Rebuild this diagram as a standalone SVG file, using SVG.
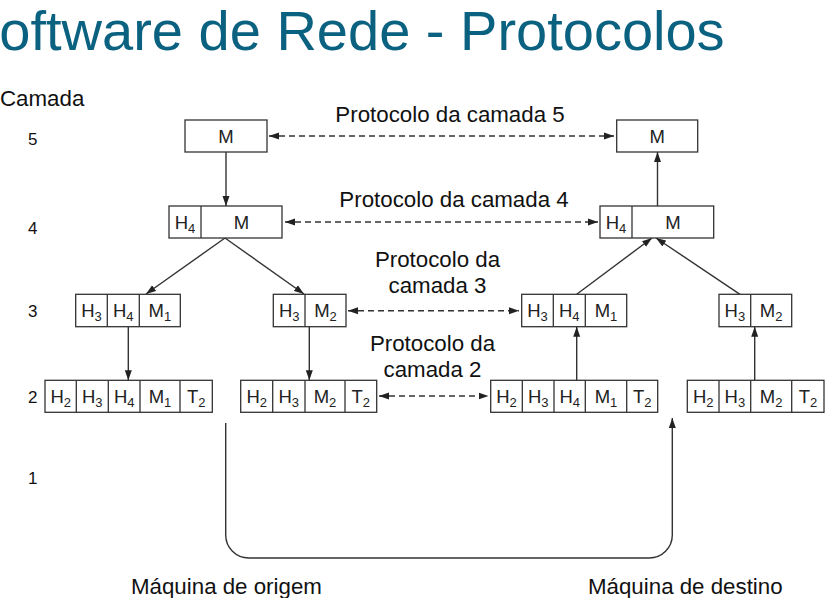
<svg xmlns="http://www.w3.org/2000/svg" width="834" height="598" viewBox="0 0 834 598">
<style>
text{font-family:"Liberation Sans",Arial,sans-serif;}
.title{font-size:56px;fill:#0b6180;}
.lbl{font-size:22.3px;fill:#111;}
.num{font-size:17px;fill:#111;}
.cell{fill:#fff;stroke:#333;stroke-width:1.3;}
.div{stroke:#333;stroke-width:1.3;}
.bt{font-size:18.5px;fill:#222;text-anchor:middle;}
.sub{font-size:13px;}
.arr{fill:none;stroke:#333;stroke-width:1.4;marker-end:url(#ah);}
.dash{fill:none;stroke:#333;stroke-width:1.4;stroke-dasharray:6 4;marker-start:url(#ah);marker-end:url(#ah);}
</style>
<defs>
<marker id="ah" markerUnits="userSpaceOnUse" markerWidth="11" markerHeight="8" refX="10" refY="4" orient="auto-start-reverse">
<path d="M0,0.5 L10,4 L0,7.5 z" fill="#222"/>
</marker>
</defs>
<rect width="834" height="598" fill="#fff"/>
<text class="title" x="-38" y="50">Software de Rede - Protocolos</text>
<g id="layer-labels">
<text class="lbl" x="0" y="106">Camada</text>
<text class="num" x="28" y="145">5</text>
<text class="num" x="28" y="234">4</text>
<text class="num" x="28" y="317">3</text>
<text class="num" x="28" y="403">2</text>
<text class="num" x="28" y="484">1</text>
</g>
<g id="protocol-labels">
<text class="lbl" x="450" y="122" text-anchor="middle">Protocolo da camada 5</text>
<text class="lbl" x="454" y="207" text-anchor="middle">Protocolo da camada 4</text>
<text class="lbl" x="437.5" y="267" text-anchor="middle">Protocolo da</text>
<text class="lbl" x="437.5" y="293" text-anchor="middle">camada 3</text>
<text class="lbl" x="432.5" y="351" text-anchor="middle">Protocolo da</text>
<text class="lbl" x="432.5" y="377" text-anchor="middle">camada 2</text>
</g>
<g id="connectors">
<line class="arr" x1="226" y1="152" x2="226" y2="206"/>
<line class="arr" x1="657.5" y1="206" x2="657.5" y2="152"/>
<line class="arr" x1="225" y1="238" x2="146" y2="294"/>
<line class="arr" x1="225" y1="238" x2="304" y2="294"/>
<line class="arr" x1="576.7" y1="294.3" x2="652" y2="238"/>
<line class="arr" x1="740" y1="294.3" x2="656" y2="238"/>
<line class="arr" x1="128.3" y1="326.7" x2="128.3" y2="380.3"/>
<line class="arr" x1="309.3" y1="326.7" x2="309.3" y2="380.3"/>
<line class="arr" x1="576.7" y1="380.3" x2="576.7" y2="326.7"/>
<line class="arr" x1="754.7" y1="380.3" x2="754.7" y2="326.7"/>
<line class="dash" x1="269" y1="136" x2="614" y2="136"/>
<line class="dash" x1="285" y1="222" x2="598" y2="222"/>
<line class="dash" x1="348" y1="310.7" x2="519" y2="310.7"/>
<line class="dash" x1="379" y1="396" x2="488.5" y2="396"/>
<path class="arr" d="M225.7,423 V535 A23,23 0 0 0 248.7,558 H649.3 A23,23 0 0 0 672.3,535 V418"/>
</g>
<g id="src-l5">
<rect class="cell" x="185" y="120" width="82" height="32"/>
<text class="bt" x="226" y="142.5">M</text>
</g>
<g id="dst-l5">
<rect class="cell" x="616.7" y="120" width="81" height="32"/>
<text class="bt" x="657.2" y="142.5">M</text>
</g>
<g id="src-l4">
<rect class="cell" x="169" y="206" width="113" height="32"/>
<line class="div" x1="201" y1="206" x2="201" y2="238"/>
<text class="bt" x="185" y="228.5">H<tspan class="sub" dy="4">4</tspan></text>
<text class="bt" x="241.5" y="228.5">M</text>
</g>
<g id="dst-l4">
<rect class="cell" x="600" y="206" width="113.7" height="32"/>
<line class="div" x1="632" y1="206" x2="632" y2="238"/>
<text class="bt" x="616" y="228.5">H<tspan class="sub" dy="4">4</tspan></text>
<text class="bt" x="673" y="228.5">M</text>
</g>
<g id="src-l3a">
<rect class="cell" x="75.7" y="294.3" width="104.6" height="32.4"/>
<line class="div" x1="107.3" y1="294.3" x2="107.3" y2="326.7"/>
<line class="div" x1="139.3" y1="294.3" x2="139.3" y2="326.7"/>
<text class="bt" x="91.5" y="317">H<tspan class="sub" dy="4">3</tspan></text>
<text class="bt" x="123.3" y="317">H<tspan class="sub" dy="4">4</tspan></text>
<text class="bt" x="159.8" y="317">M<tspan class="sub" dy="4">1</tspan></text>
</g>
<g id="src-l3b">
<rect class="cell" x="273.3" y="294.3" width="72.7" height="32.4"/>
<line class="div" x1="305" y1="294.3" x2="305" y2="326.7"/>
<text class="bt" x="289.2" y="317">H<tspan class="sub" dy="4">3</tspan></text>
<text class="bt" x="325.5" y="317">M<tspan class="sub" dy="4">2</tspan></text>
</g>
<g id="dst-l3a">
<rect class="cell" x="521.7" y="294.3" width="105" height="32.4"/>
<line class="div" x1="553.3" y1="294.3" x2="553.3" y2="326.7"/>
<line class="div" x1="585.3" y1="294.3" x2="585.3" y2="326.7"/>
<text class="bt" x="537.5" y="317">H<tspan class="sub" dy="4">3</tspan></text>
<text class="bt" x="569.3" y="317">H<tspan class="sub" dy="4">4</tspan></text>
<text class="bt" x="606" y="317">M<tspan class="sub" dy="4">1</tspan></text>
</g>
<g id="dst-l3b">
<rect class="cell" x="719" y="294.3" width="72.7" height="32.4"/>
<line class="div" x1="750.7" y1="294.3" x2="750.7" y2="326.7"/>
<text class="bt" x="734.9" y="317">H<tspan class="sub" dy="4">3</tspan></text>
<text class="bt" x="771.2" y="317">M<tspan class="sub" dy="4">2</tspan></text>
</g>
<g id="src-l2a">
<rect class="cell" x="45" y="380.3" width="167.3" height="32"/>
<line class="div" x1="76.3" y1="380.3" x2="76.3" y2="412.3"/>
<line class="div" x1="108.3" y1="380.3" x2="108.3" y2="412.3"/>
<line class="div" x1="140" y1="380.3" x2="140" y2="412.3"/>
<line class="div" x1="180" y1="380.3" x2="180" y2="412.3"/>
<text class="bt" x="60.7" y="403">H<tspan class="sub" dy="4">2</tspan></text>
<text class="bt" x="92.3" y="403">H<tspan class="sub" dy="4">3</tspan></text>
<text class="bt" x="124.2" y="403">H<tspan class="sub" dy="4">4</tspan></text>
<text class="bt" x="160" y="403">M<tspan class="sub" dy="4">1</tspan></text>
<text class="bt" x="196.2" y="403">T<tspan class="sub" dy="4">2</tspan></text>
</g>
<g id="src-l2b">
<rect class="cell" x="240.7" y="380.3" width="136" height="32"/>
<line class="div" x1="272.7" y1="380.3" x2="272.7" y2="412.3"/>
<line class="div" x1="305" y1="380.3" x2="305" y2="412.3"/>
<line class="div" x1="345" y1="380.3" x2="345" y2="412.3"/>
<text class="bt" x="256.7" y="403">H<tspan class="sub" dy="4">2</tspan></text>
<text class="bt" x="288.8" y="403">H<tspan class="sub" dy="4">3</tspan></text>
<text class="bt" x="325" y="403">M<tspan class="sub" dy="4">2</tspan></text>
<text class="bt" x="360.8" y="403">T<tspan class="sub" dy="4">2</tspan></text>
</g>
<g id="dst-l2a">
<rect class="cell" x="490.7" y="380.3" width="167" height="32"/>
<line class="div" x1="522.3" y1="380.3" x2="522.3" y2="412.3"/>
<line class="div" x1="554" y1="380.3" x2="554" y2="412.3"/>
<line class="div" x1="585.3" y1="380.3" x2="585.3" y2="412.3"/>
<line class="div" x1="626.7" y1="380.3" x2="626.7" y2="412.3"/>
<text class="bt" x="506.5" y="403">H<tspan class="sub" dy="4">2</tspan></text>
<text class="bt" x="538.2" y="403">H<tspan class="sub" dy="4">3</tspan></text>
<text class="bt" x="569.7" y="403">H<tspan class="sub" dy="4">4</tspan></text>
<text class="bt" x="606" y="403">M<tspan class="sub" dy="4">1</tspan></text>
<text class="bt" x="642.2" y="403">T<tspan class="sub" dy="4">2</tspan></text>
</g>
<g id="dst-l2b">
<rect class="cell" x="687.3" y="380.3" width="136.7" height="32"/>
<line class="div" x1="719" y1="380.3" x2="719" y2="412.3"/>
<line class="div" x1="750.7" y1="380.3" x2="750.7" y2="412.3"/>
<line class="div" x1="791.7" y1="380.3" x2="791.7" y2="412.3"/>
<text class="bt" x="703.2" y="403">H<tspan class="sub" dy="4">2</tspan></text>
<text class="bt" x="734.9" y="403">H<tspan class="sub" dy="4">3</tspan></text>
<text class="bt" x="771.2" y="403">M<tspan class="sub" dy="4">2</tspan></text>
<text class="bt" x="807.9" y="403">T<tspan class="sub" dy="4">2</tspan></text>
</g>
<g id="machine-labels">
<text class="lbl" x="131" y="594">Máquina de origem</text>
<text class="lbl" x="588" y="594">Máquina de destino</text>
</g>
</svg>
